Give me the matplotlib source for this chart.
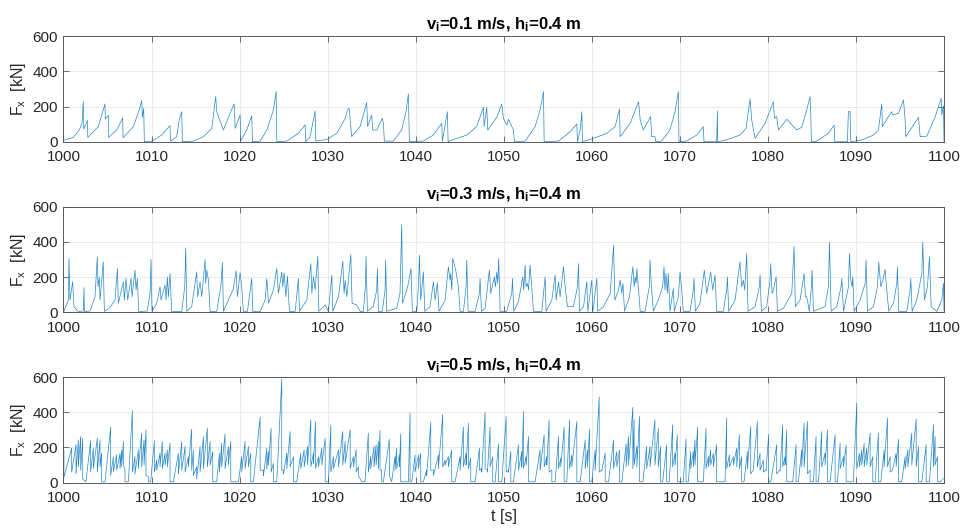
import numpy as np
import matplotlib
matplotlib.use("Agg")
import matplotlib.pyplot as plt

# ---------------------------------------------------------------------------
# Ice load time series, horizontal force F_x for three ice speeds (h_i = 0.4 m)
# ---------------------------------------------------------------------------

# v_i = 0.1 m/s : polyline vertices (time [s], force [kN])
top_t = [
    1000.0, 1001.1, 1001.8, 1002.1, 1002.25, 1002.29, 1002.72, 1002.76,
    1003.96, 1004.71, 1004.75, 1005.09, 1005.13, 1006.04, 1006.72, 1006.76,
    1007.93, 1008.6, 1008.88, 1008.96, 1009.11, 1009.18, 1010.02, 1011.15,
    1012.1, 1012.14, 1012.85, 1013.16, 1013.43, 1013.5, 1014.75, 1015.9,
    1016.84, 1017.1, 1017.29, 1017.4, 1018.16, 1018.92, 1019.38, 1019.49,
    1020.06, 1020.13, 1020.8, 1021.38, 1021.46, 1022.33, 1023.1, 1023.84,
    1024.15, 1024.22, 1025.36, 1026.68, 1027.44, 1027.52, 1028.0, 1028.58,
    1028.65, 1029.9, 1031.04, 1032.0, 1032.25, 1032.44, 1032.73, 1033.68,
    1034.43, 1034.55, 1035.0, 1035.12, 1035.57, 1036.21, 1036.33, 1036.44,
    1037.46, 1038.41, 1038.9, 1039.17, 1039.28, 1040.87, 1042.0, 1042.96,
    1043.03, 1043.6, 1043.68, 1044.1, 1045.8, 1046.93, 1047.69, 1047.77,
    1048.07, 1048.18, 1049.21, 1049.78, 1049.96, 1050.34, 1050.53, 1051.1,
    1051.21, 1052.43, 1053.56, 1054.13, 1054.51, 1054.59, 1056.22, 1057.54,
    1058.3, 1058.37, 1058.68, 1058.87, 1058.94, 1059.81, 1061.71, 1062.65,
    1063.15, 1063.22, 1064.36, 1065.31, 1065.5, 1065.85, 1066.68, 1066.8,
    1067.17, 1067.25, 1067.93, 1068.88, 1069.45, 1069.83, 1069.9, 1070.77,
    1071.91, 1072.67, 1072.74, 1074.18, 1074.26, 1074.3, 1075.24, 1076.83,
    1077.52, 1077.97, 1078.16, 1078.54, 1079.68, 1080.62, 1080.74, 1081.0,
    1081.19, 1082.14, 1083.27, 1083.84, 1084.41, 1084.79, 1084.86, 1084.94,
    1085.55, 1086.87, 1087.52, 1087.59, 1089.03, 1089.14, 1089.33, 1089.41,
    1090.66, 1091.99, 1092.55, 1092.93, 1093.0, 1093.69, 1094.07, 1094.15,
    1094.83, 1095.4, 1095.58, 1095.66, 1097.1, 1097.29, 1098.05, 1099.0,
    1099.68, 1099.75, 1099.94, 1100.0,
]
top_f = [
    8, 25, 67, 105, 228, 72, 120, 25,
    86, 215, 128, 150, 25, 67, 135, 23,
    86, 181, 234, 139, 190, 0, 3, 38,
    92, 3, 29, 128, 171, 0, 4, 29,
    76, 181, 257, 171, 67, 162, 215, 76,
    152, 6, 67, 147, 0, 4, 67, 181,
    285, 0, 4, 48, 96, 0, 29, 175,
    4, 13, 48, 133, 181, 190, 29, 86,
    223, 86, 152, 67, 67, 133, 105, 4,
    4, 67, 171, 272, 0, 4, 38, 105,
    4, 171, 0, 10, 38, 86, 196, 86,
    196, 67, 139, 215, 133, 95, 128, 67,
    0, 4, 86, 181, 285, 0, 4, 57,
    101, 0, 67, 171, 0, 13, 48, 86,
    186, 29, 105, 228, 124, 67, 143, 29,
    29, 0, 4, 67, 171, 285, 0, 4,
    38, 86, 0, 0, 175, 0, 10, 38,
    76, 244, 124, 19, 105, 228, 133, 143,
    67, 128, 67, 82, 181, 257, 171, 0,
    4, 48, 95, 0, 0, 171, 171, 0,
    10, 38, 67, 215, 86, 143, 171, 152,
    162, 238, 124, 29, 139, 29, 32, 143,
    247, 152, 204, 0,
]

# v_i = 0.3 m/s : polyline vertices
mid_t = [
    1000.0, 1000.05, 1000.55, 1000.62, 1000.74, 1001.04, 1001.19, 1001.68, 1002.25, 1002.33,
    1002.37, 1003.01, 1003.58, 1003.84, 1003.92, 1004.07, 1004.15, 1004.52, 1004.64, 1005.2,
    1005.85, 1006.12, 1006.23, 1006.8, 1006.91, 1007.1, 1007.29, 1007.67, 1007.78, 1008.12,
    1008.24, 1008.39, 1008.54, 1009.52, 1009.83, 1009.94, 1010.05, 1010.59, 1010.96, 1011.08,
    1011.53, 1011.65, 1011.8, 1011.91, 1012.1, 1012.29, 1013.43, 1013.77, 1013.88, 1014.0,
    1014.56, 1015.13, 1015.24, 1015.51, 1015.7, 1016.08, 1016.15, 1016.27, 1016.46, 1016.65,
    1017.4, 1017.86, 1018.05, 1018.16, 1018.73, 1019.3, 1019.6, 1019.75, 1020.06, 1020.24,
    1020.43, 1020.89, 1021.38, 1021.49, 1022.33, 1022.9, 1023.09, 1023.28, 1023.84, 1024.22,
    1024.41, 1024.79, 1024.9, 1025.06, 1025.25, 1025.43, 1025.66, 1026.31, 1026.68, 1026.8,
    1027.63, 1028.09, 1028.2, 1028.39, 1028.58, 1028.88, 1029.0, 1029.71, 1030.09, 1030.47,
    1030.59, 1031.23, 1031.72, 1031.87, 1031.99, 1032.18, 1032.63, 1032.78, 1033.31, 1033.69,
    1034.06, 1034.28, 1034.36, 1034.51, 1035.19, 1035.57, 1035.65, 1035.76, 1036.21, 1036.52,
    1036.59, 1036.71, 1037.84, 1038.22, 1038.41, 1038.52, 1038.98, 1039.17, 1039.47, 1039.62,
    1040.12, 1040.31, 1040.42, 1040.57, 1040.87, 1041.03, 1041.63, 1042.01, 1042.2, 1042.46,
    1042.65, 1043.34, 1043.71, 1043.9, 1043.98, 1044.1, 1044.21, 1044.36, 1044.58, 1044.85,
    1045.04, 1045.42, 1045.72, 1045.8, 1045.95, 1046.75, 1047.24, 1047.31, 1047.46, 1047.88,
    1048.37, 1048.52, 1048.94, 1049.06, 1049.21, 1049.32, 1049.43, 1049.59, 1050.34, 1050.91,
    1050.99, 1051.14, 1051.67, 1052.16, 1052.27, 1052.43, 1052.54, 1052.69, 1052.81, 1052.99,
    1053.18, 1053.37, 1054.32, 1054.7, 1054.81, 1055.46, 1055.84, 1055.95, 1056.22, 1056.4,
    1056.78, 1056.97, 1057.24, 1057.92, 1058.37, 1058.49, 1058.6, 1059.06, 1059.43, 1059.55,
    1060.0, 1060.12, 1060.57, 1060.68, 1061.33, 1062.09, 1062.47, 1062.62, 1063.03, 1063.22,
    1063.41, 1063.53, 1063.72, 1064.28, 1064.66, 1064.81, 1064.93, 1065.04, 1065.12, 1065.31,
    1065.5, 1066.04, 1066.53, 1066.61, 1066.76, 1066.99, 1067.55, 1068.05, 1068.2, 1068.31,
    1068.42, 1068.58, 1068.69, 1068.88, 1069.26, 1069.37, 1069.83, 1070.02, 1070.2, 1070.39,
    1071.15, 1071.53, 1071.61, 1071.76, 1072.29, 1072.78, 1073.05, 1073.5, 1073.73, 1073.99,
    1074.18, 1074.94, 1075.32, 1075.4, 1075.55, 1076.27, 1076.83, 1077.02, 1077.21, 1077.36,
    1077.59, 1077.74, 1078.54, 1079.03, 1079.11, 1079.26, 1079.86, 1080.24, 1080.32, 1080.47,
    1080.62, 1080.93, 1081.08, 1081.76, 1082.71, 1082.97, 1083.12, 1083.65, 1084.11, 1084.26,
    1084.41, 1084.71, 1084.94, 1085.02, 1085.17, 1086.49, 1086.87, 1086.99, 1087.18, 1087.82,
    1088.31, 1088.39, 1088.58, 1089.15, 1089.26, 1089.41, 1089.56, 1089.64, 1089.79, 1090.47,
    1091.04, 1091.15, 1091.3, 1091.99, 1092.44, 1092.59, 1092.82, 1093.05, 1093.31, 1093.5,
    1093.73, 1094.26, 1094.64, 1094.71, 1094.86, 1095.77, 1096.15, 1096.23, 1096.38, 1096.91,
    1097.48, 1097.59, 1097.78, 1098.12, 1098.35, 1098.54, 1099.18, 1099.75, 1099.94, 1100.0,
]
mid_f = [
    10, 5, 69, 305, 69, 173, 32, 4, 7, 140,
    4, 7, 88, 314, 145, 197, 69, 286, 5, 22,
    69, 248, 51, 173, 69, 192, 69, 192, 88, 239,
    126, 192, 4, 7, 107, 299, 5, 51, 145, 69,
    154, 69, 201, 88, 220, 5, 5, 145, 365, 5,
    32, 229, 88, 173, 88, 299, 164, 239, 182, 4,
    5, 145, 282, 5, 69, 135, 235, 88, 224, 145,
    5, 5, 192, 5, 4, 69, 192, 51, 126, 248,
    107, 229, 145, 224, 88, 205, 5, 5, 192, 5,
    69, 276, 107, 201, 126, 318, 5, 41, 5, 211,
    5, 88, 290, 107, 182, 88, 327, 51, 41, 5,
    5, 145, 318, 5, 32, 126, 248, 5, 5, 126,
    295, 5, 22, 107, 498, 51, 126, 164, 248, 5,
    5, 145, 323, 69, 229, 5, 32, 173, 69, 167,
    5, 69, 258, 182, 220, 126, 305, 276, 229, 145,
    5, 5, 145, 295, 5, 5, 107, 192, 5, 22,
    239, 107, 201, 145, 229, 164, 305, 5, 5, 107,
    192, 5, 60, 201, 126, 267, 145, 164, 126, 267,
    145, 5, 5, 201, 5, 69, 211, 69, 173, 88,
    258, 145, 32, 32, 145, 276, 5, 32, 173, 5,
    182, 5, 192, 5, 32, 107, 380, 69, 126, 182,
    107, 164, 5, 88, 258, 145, 201, 164, 248, 126,
    5, 5, 145, 295, 154, 5, 69, 145, 258, 126,
    220, 107, 220, 5, 135, 5, 88, 229, 135, 5,
    5, 126, 192, 5, 51, 239, 107, 229, 126, 211,
    5, 5, 126, 201, 5, 69, 286, 145, 182, 126,
    333, 5, 32, 145, 211, 5, 32, 182, 276, 107,
    126, 201, 5, 22, 107, 374, 32, 69, 220, 88,
    88, 5, 145, 239, 5, 32, 145, 399, 5, 32,
    145, 192, 5, 145, 333, 182, 145, 201, 5, 69,
    164, 295, 5, 32, 145, 286, 145, 182, 243, 126,
    5, 51, 164, 258, 5, 5, 126, 192, 5, 69,
    220, 399, 69, 145, 314, 32, 5, 69, 164, 5,
]

# v_i = 0.5 m/s : spike peak times, peak forces and the force each spike drops to
bot_t = [
    1000.05, 1000.93, 1001.42, 1001.68, 1001.95, 1002.18, 1002.55, 1003.08, 1003.39, 1003.84, 1004.15, 1004.33,
    1004.71, 1005.36, 1005.66, 1006.04, 1006.42, 1006.61, 1006.8, 1006.99, 1007.37, 1007.82, 1008.12, 1008.5,
    1008.88, 1009.15, 1009.37, 1009.64, 1009.9, 1010.32, 1010.59, 1010.96, 1011.23, 1011.53, 1011.8, 1012.1,
    1012.48, 1013.05, 1013.43, 1013.81, 1014.18, 1014.56, 1014.75, 1015.13, 1015.51, 1015.89, 1016.34, 1016.65,
    1016.95, 1017.4, 1017.71, 1017.97, 1018.35, 1018.73, 1019.0, 1019.3, 1019.87, 1020.24, 1020.62, 1021.0,
    1021.27, 1021.57, 1022.33, 1022.71, 1023.09, 1023.28, 1023.58, 1023.84, 1024.22, 1024.79, 1024.98, 1025.36,
    1025.74, 1026.12, 1026.49, 1026.95, 1027.33, 1027.71, 1028.09, 1028.39, 1028.62, 1028.96, 1029.34, 1029.72,
    1030.09, 1030.36, 1030.66, 1031.23, 1031.72, 1031.99, 1032.56, 1032.93, 1033.24, 1033.5, 1033.87, 1034.24,
    1034.62, 1034.89, 1035.27, 1035.5, 1035.76, 1035.95, 1036.14, 1036.33, 1037.01, 1037.27, 1037.65, 1037.84,
    1038.15, 1038.3, 1038.6, 1039.17, 1039.36, 1039.55, 1039.93, 1040.31, 1040.57, 1040.87, 1041.25, 1041.71,
    1042.01, 1042.58, 1043.07, 1043.34, 1043.71, 1044.09, 1044.47, 1045.04, 1045.42, 1045.72, 1045.99, 1046.25,
    1046.75, 1047.24, 1047.5, 1047.88, 1048.15, 1048.45, 1048.75, 1049.02, 1049.4, 1049.78, 1050.27, 1050.53,
    1050.8, 1051.1, 1051.67, 1052.05, 1052.24, 1052.54, 1052.81, 1053.18, 1053.56, 1054.13, 1054.59, 1054.89,
    1055.15, 1055.46, 1055.84, 1056.22, 1056.48, 1056.86, 1057.16, 1057.47, 1057.73, 1058.3, 1058.68, 1059.25,
    1059.51, 1059.74, 1060.0, 1060.38, 1060.84, 1061.14, 1061.52, 1061.9, 1062.47, 1062.84, 1063.15, 1063.41,
    1063.9, 1064.17, 1064.66, 1064.81, 1065.12, 1065.42, 1065.8, 1066.23, 1066.61, 1067.17, 1067.55, 1067.82,
    1068.05, 1068.5, 1068.8, 1069.18, 1069.45, 1069.71, 1070.02, 1070.39, 1070.7, 1070.96, 1071.23, 1071.53,
    1071.72, 1072.02, 1072.21, 1072.67, 1072.97, 1073.24, 1073.5, 1073.8, 1074.18, 1074.56, 1075.13, 1075.32,
    1075.62, 1076.08, 1076.46, 1076.76, 1077.02, 1077.29, 1077.67, 1078.05, 1078.35, 1078.8, 1079.11, 1079.49,
    1079.79, 1080.09, 1080.32, 1081.0, 1081.38, 1081.68, 1081.95, 1082.14, 1082.52, 1082.82, 1083.2, 1083.46,
    1083.84, 1084.11, 1084.49, 1084.79, 1085.17, 1085.47, 1085.74, 1086.11, 1086.49, 1086.76, 1087.06, 1087.63,
    1087.9, 1088.2, 1088.58, 1088.88, 1089.15, 1089.71, 1090.09, 1090.4, 1090.66, 1090.93, 1091.23, 1091.61,
    1091.91, 1092.18, 1092.55, 1092.82, 1093.2, 1093.58, 1093.88, 1094.18, 1094.56, 1094.83, 1095.2, 1095.58,
    1095.89, 1096.34, 1096.84, 1097.1, 1097.48, 1097.97, 1098.35, 1098.8, 1098.99, 1099.26, 1099.56, 1099.94,
]
bot_peak = [
    186, 196, 215, 243, 262, 253, 5, 239, 196, 253, 243, 167,
    5, 315, 148, 158, 167, 186, 234, 72, 5, 410, 148, 186,
    281, 243, 300, 34, 5, 239, 129, 167, 234, 167, 186, 224,
    5, 167, 234, 205, 148, 304, 186, 91, 205, 262, 309, 234,
    177, 5, 167, 224, 277, 205, 234, 5, 5, 148, 234, 205,
    167, 5, 372, 72, 196, 177, 309, 110, 5, 588, 72, 167,
    290, 148, 5, 167, 186, 205, 357, 167, 347, 148, 196, 253,
    5, 328, 148, 186, 290, 234, 300, 148, 186, 91, 5, 5,
    281, 148, 205, 215, 234, 296, 72, 5, 247, 5, 148, 196,
    158, 277, 5, 5, 395, 5, 158, 158, 167, 5, 72, 342,
    72, 158, 389, 129, 148, 186, 5, 148, 315, 167, 338, 139,
    5, 196, 82, 399, 72, 315, 148, 5, 220, 5, 376, 72,
    177, 5, 215, 177, 404, 148, 262, 5, 5, 186, 272, 148,
    357, 72, 5, 262, 139, 315, 5, 357, 158, 347, 5, 243,
    186, 304, 5, 186, 486, 72, 167, 5, 243, 177, 186, 5,
    220, 262, 427, 357, 205, 376, 5, 205, 205, 357, 309, 205,
    5, 215, 5, 328, 167, 272, 5, 5, 247, 5, 177, 177,
    243, 315, 5, 5, 309, 148, 186, 167, 215, 5, 5, 366,
    158, 148, 196, 272, 148, 5, 177, 319, 72, 347, 167, 129,
    72, 275, 5, 215, 72, 328, 148, 300, 5, 5, 215, 5,
    186, 338, 347, 72, 5, 262, 5, 290, 167, 300, 5, 272,
    5, 224, 148, 215, 5, 5, 452, 167, 186, 224, 196, 281,
    148, 5, 281, 5, 186, 366, 148, 72, 167, 247, 5, 148,
    186, 281, 361, 205, 5, 215, 5, 328, 262, 148, 5, 24,
]
bot_low = [
    30, 60, 50, 90, 70, 20, 5, 60, 80, 60, 90, 5,
    5, 40, 60, 70, 80, 90, 100, 5, 5, 60, 50, 80,
    90, 100, 40, 5, 5, 60, 70, 90, 80, 100, 90, 5,
    5, 50, 70, 60, 90, 70, 40, 20, 60, 80, 90, 100,
    5, 5, 60, 90, 80, 100, 5, 5, 5, 60, 80, 90,
    5, 5, 70, 40, 80, 100, 60, 5, 5, 70, 50, 80,
    90, 5, 5, 80, 90, 100, 90, 110, 80, 90, 100, 5,
    5, 60, 80, 90, 100, 110, 80, 90, 60, 40, 5, 5,
    60, 80, 90, 100, 80, 70, 5, 5, 40, 5, 70, 80,
    90, 5, 5, 5, 5, 5, 60, 80, 5, 5, 40, 70,
    40, 80, 90, 100, 90, 5, 5, 70, 90, 100, 80, 5,
    5, 70, 60, 80, 60, 90, 5, 5, 5, 5, 60, 60,
    5, 5, 70, 90, 80, 100, 5, 5, 5, 70, 90, 100,
    60, 5, 5, 80, 90, 5, 5, 80, 90, 5, 5, 80,
    90, 5, 5, 70, 60, 70, 5, 5, 80, 90, 5, 5,
    90, 100, 80, 100, 90, 5, 5, 80, 90, 100, 90, 5,
    5, 5, 5, 90, 100, 5, 5, 5, 5, 5, 80, 90,
    100, 5, 5, 5, 80, 90, 100, 90, 5, 5, 5, 80,
    90, 100, 90, 80, 5, 5, 80, 50, 80, 90, 70, 60,
    70, 5, 5, 50, 70, 90, 100, 5, 5, 5, 5, 5,
    90, 90, 50, 5, 5, 5, 5, 90, 100, 5, 5, 5,
    5, 80, 90, 5, 5, 5, 80, 90, 100, 90, 100, 90,
    5, 5, 5, 5, 90, 90, 60, 80, 90, 5, 5, 80,
    90, 100, 90, 5, 5, 5, 5, 90, 100, 5, 5, 24,
]

titles = [
    r"$\mathbf{v_i}$=0.1 m/s, $\mathbf{h_i}$=0.4 m",
    r"$\mathbf{v_i}$=0.3 m/s, $\mathbf{h_i}$=0.4 m",
    r"$\mathbf{v_i}$=0.5 m/s, $\mathbf{h_i}$=0.4 m",
]

assert len(top_t) == len(top_f)
assert len(mid_t) == len(mid_f)
assert len(bot_t) == len(bot_peak) == len(bot_low)


def sawtooth(peak_t, peak_f, low_f):
    """Each spike is drawn as a vertical drop from its peak to its low value."""
    t = np.repeat(np.asarray(peak_t, float), 2)
    f = np.column_stack([peak_f, low_f]).ravel()
    return t, f


plt.rcParams["font.family"] = ["Liberation Sans", "DejaVu Sans"]
plt.rcParams["mathtext.fontset"] = "custom"
plt.rcParams["mathtext.rm"] = "Liberation Sans"
plt.rcParams["mathtext.it"] = "Liberation Sans"
plt.rcParams["mathtext.bf"] = "Liberation Sans:bold"

AX_COL = "#262626"
SPINE_COL = "#595959"
LINE_COL = "#0072BD"

series = [
    (np.asarray(top_t), np.asarray(top_f)),
    (np.asarray(mid_t), np.asarray(mid_f)),
    sawtooth(bot_t, bot_peak, bot_low),
]
bottoms = [0.733, 0.412, 0.091]

fig = plt.figure(figsize=(9.62, 5.31), dpi=100)

for (t, f), title, b in zip(series, titles, bottoms):
    ax = fig.add_axes([0.066, b, 0.9153, 0.199])
    ax.plot(t, f, color=LINE_COL, linewidth=0.5, alpha=0.85)

    ax.set_xlim(1000, 1100)
    ax.set_ylim(0, 600)
    ax.set_xticks(np.arange(1000, 1101, 10))
    ax.set_yticks([0, 200, 400, 600])
    ax.grid(True, color="#e8e8e8", linewidth=0.6)
    ax.set_axisbelow(True)
    ax.tick_params(direction="in", top=True, right=True, length=4, width=0.6,
                   color=SPINE_COL, labelcolor=AX_COL, labelsize=11)
    ax.tick_params(axis="x", pad=6)
    ax.tick_params(axis="y", pad=4)
    for s in ax.spines.values():
        s.set_color(SPINE_COL)
        s.set_linewidth(0.7)

    ax.set_ylabel(r"$\mathregular{F_x}$  [kN]", fontsize=11.5, color=AX_COL, labelpad=3)
    ax.set_title(title, fontsize=12, fontweight="bold", color="black", pad=5)

ax.set_xlabel("t [s]", fontsize=11.5, color=AX_COL, labelpad=3)

fig.savefig("out.png", dpi=100)
